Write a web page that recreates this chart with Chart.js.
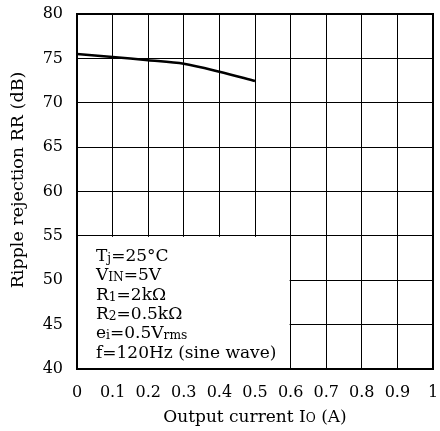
<!DOCTYPE html>
<html>
<head>
<meta charset="utf-8">
<script src="https://cdn.jsdelivr.net/npm/chart.js@4"></script>
<style>
  html, body { margin: 0; padding: 0; background: #fff; }
  #wrap { width: 440px; height: 431px; }
</style>
</head>
<body>
<div id="wrap"><canvas id="rrChart" width="440" height="431"></canvas></div>
<script>
const currentA = [0, 0.1, 0.2, 0.3, 0.4, 0.5];
const rippleDb = [75.5, 75.15, 74.8, 74.4, 73.5, 72.45];
const xTicks = [0, 0.1, 0.2, 0.3, 0.4, 0.5, 0.6, 0.7, 0.8, 0.9, 1];
const yTicks = [40, 45, 50, 55, 60, 65, 70, 75, 80];
const conditions = [
  [['T', 0], ['j', 1], ['=25°C', 0]],
  [['V', 0], ['IN', 1], ['=5V', 0]],
  [['R', 0], ['1', 1], ['=2kΩ', 0]],
  [['R', 0], ['2', 1], ['=0.5kΩ', 0]],
  [['e', 0], ['i', 1], ['=0.5V', 0], ['rms', 1]],
  [['f=120Hz (sine wave)', 0]]
];

const FONT = '"DejaVu Serif", serif';

function drawRich(ctx, parts, x, y, size) {
  parts.forEach(([txt, sub]) => {
    ctx.font = (sub ? size * 0.72 : size) + 'px ' + FONT;
    ctx.fillText(txt, x, y + (sub ? 1 : 0));
    x += ctx.measureText(txt).width;
  });
}

function richWidth(ctx, parts, size) {
  let w = 0;
  parts.forEach(([txt, sub]) => {
    ctx.font = (sub ? size * 0.72 : size) + 'px ' + FONT;
    w += ctx.measureText(txt).width;
  });
  return w;
}

const annot = {
  id: 'annot',
  beforeDatasetsDraw(chart) {
    const ctx = chart.ctx, xs = chart.scales.x, ys = chart.scales.y;
    const l = xs.getPixelForValue(0), r = xs.getPixelForValue(0.6);
    const t = ys.getPixelForValue(55), b = ys.getPixelForValue(40);
    ctx.save();
    ctx.fillStyle = '#fff';
    ctx.fillRect(l + 1, t + 1, r - l - 2, b - t - 2);
    ctx.fillStyle = '#000';
    ctx.textBaseline = 'alphabetic';
    conditions.forEach((line, i) => drawRich(ctx, line, 96, 261 + i * 19.3, 17));
    ctx.restore();
  },
  afterDraw(chart) {
    const ctx = chart.ctx, a = chart.chartArea;
    ctx.save();
    ctx.fillStyle = '#000';
    ctx.strokeStyle = '#000';
    ctx.lineWidth = 2;
    ctx.strokeRect(a.left, a.top, a.right - a.left, a.bottom - a.top);
    // x title
    const xt = [['Output current I', 0], ['O', 1], [' (A)', 0]];
    ctx.textBaseline = 'middle';
    const w = richWidth(ctx, xt, 17);
    drawRich(ctx, xt, (a.left + a.right) / 2 - w / 2, 418, 17);
    // y title
    ctx.translate(18, 180);
    ctx.rotate(-Math.PI / 2);
    ctx.font = '17.5px ' + FONT;
    ctx.textAlign = 'center';
    ctx.fillText('Ripple rejection RR (dB)', 0, 0);
    ctx.restore();
  }
};

new Chart(document.getElementById('rrChart'), {
  type: 'line',
  data: {
    datasets: [{
      data: currentA.map((x, i) => ({ x: x, y: rippleDb[i] })),
      borderColor: '#000',
      borderWidth: 2.5,
      pointRadius: 0,
      tension: 0.3,
      fill: false
    }]
  },
  options: {
    responsive: false,
    animation: false,
    layout: { padding: { top: 14, right: 7, left: 0, bottom: 0 } },
    plugins: { legend: { display: false }, tooltip: { enabled: false } },
    scales: {
      x: {
        type: 'linear', min: 0, max: 1,
        afterBuildTicks: s => { s.ticks = xTicks.map(v => ({ value: v })); },
        afterFit: s => { s.height = 62; s.paddingLeft = 0; s.paddingRight = 0; },
        grid: { color: '#000', lineWidth: 1, drawTicks: false },
        border: { display: false },
        ticks: {
          color: '#000', padding: 14, maxRotation: 0, autoSkip: false,
          font: { family: FONT, size: 16 },
          callback: v => String(v)
        }
      },
      y: {
        min: 40, max: 80,
        afterBuildTicks: s => { s.ticks = yTicks.map(v => ({ value: v })); },
        afterFit: s => { s.width = 77; s.paddingTop = 0; s.paddingBottom = 0; },
        grid: { color: '#000', lineWidth: 1, drawTicks: false },
        border: { display: false },
        ticks: {
          color: '#000', padding: 14,
          font: { family: FONT, size: 16 }
        }
      }
    }
  },
  plugins: [annot]
});
</script>
</body>
</html>
